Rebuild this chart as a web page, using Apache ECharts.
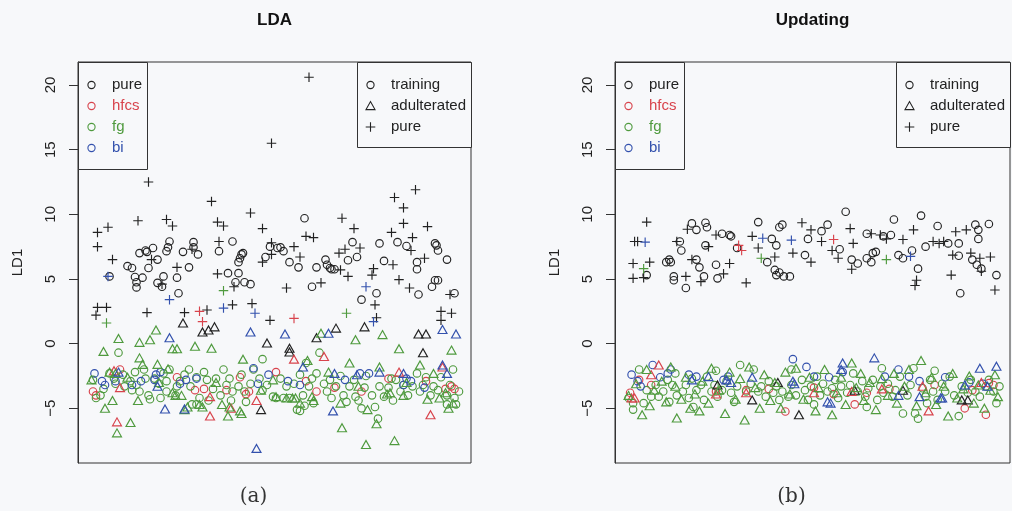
<!DOCTYPE html>
<html>
<head>
<meta charset="utf-8">
<script src="https://cdn.jsdelivr.net/npm/echarts@6/dist/echarts.min.js"></script>
<style>
  html, body { margin: 0; padding: 0; background: #f7f8fa; }
  #chart { width: 1012px; height: 511px; }
</style>
</head>
<body>
<div id="chart"></div>
<script>
// Shared axis ticks and labels
const yTicks = [-5, 0, 5, 10, 15, 20];
const panelTitles = ['LDA', 'Updating'];
const panelTags = ['(a)', '(b)'];
const classNames = ['pure', 'hfcs', 'fg', 'bi'];
const setNames = ['training', 'adulterated', 'pure'];

// ---- LDA panel: [sample index, LD1] ----
const ldaTrainPure = [[14,5.2],[26,6.0],[29,5.85],[31,5.15],[32,4.75],[32,4.35],[34,7.0],[36,5.1],[38,7.2],[39,7.1],[40,5.85],[43,7.4],[46,6.5],[46,4.7],[49,4.4],[50,5.2],[52,7.15],[53,7.45],[54,7.9],[59,5.1],[60,3.9],[63,7.1],[67,5.9],[70,7.85],[70,7.45],[73,6.9],[87,7.15],[93,5.45],[96,7.9],[98,4.75],[100,5.45],[100,6.3],[101,6.6],[102,6.9],[103,7.0],[104,4.75],[108,4.6],[118,6.7],[121,7.5],[126,7.4],[128,7.45],[130,7.15],[134,6.3],[140,5.9],[144,9.7],[149,4.4],[152,5.9],[158,6.5],[159,6.1],[161,5.85],[162,5.75],[164,5.75],[173,6.45],[176,7.85],[179,6.7],[182,3.4],[192,3.9],[194,7.75],[197,6.4],[206,7.85],[212,7.55],[219,6.3],[219,5.75],[220,3.8],[229,4.4],[231,7.75],[231,4.9],[232,7.6],[233,7.2],[233,4.9],[239,6.5],[244,3.9]];
const ldaTrainHfcs = [[3,-3.7],[5,-4.0],[21,-2.0],[59,-2.6],[71,-3.6],[77,-3.5],[92,-3.6],[101,-2.6],[105,-3.9],[107,-3.7],[125,-2.2],[145,-2.9],[152,-3.7],[164,-3.4],[182,-3.7],[200,-2.7],[225,-2.9],[238,-3.5],[242,-3.3],[244,-3.5]];
const ldaTrainFg = [[3,-2.8],[5,-4.2],[8,-4.0],[10,-3.5],[14,-2.3],[17,-2.7],[18,-3.1],[20,-0.7],[23,-2.4],[24,-3.3],[28,-2.9],[29,-3.6],[31,-2.2],[32,-3.2],[34,-3.7],[37,-2.0],[38,-2.7],[40,-4.0],[41,-4.3],[44,-2.7],[47,-3.1],[48,-4.2],[50,-2.3],[52,-2.9],[52,-3.7],[54,-2.0],[58,-4.0],[59,-3.3],[61,-2.9],[64,-2.4],[67,-2.0],[68,-3.3],[69,-4.7],[72,-2.6],[72,-4.7],[74,-4.2],[77,-2.2],[79,-2.8],[80,-4.4],[83,-3.5],[85,-2.7],[88,-4.0],[90,-2.0],[92,-3.2],[94,-2.7],[95,-4.4],[96,-3.7],[100,-3.3],[102,-2.4],[104,-3.7],[105,-4.5],[108,-3.1],[110,-2.0],[114,-2.7],[116,-1.2],[116,-3.6],[119,-3.2],[123,-4.1],[125,-4.2],[128,-2.7],[130,-4.2],[132,-3.3],[134,-4.2],[137,-3.1],[139,-5.1],[141,-2.4],[141,-5.2],[143,-4.0],[144,-4.8],[145,-1.5],[147,-3.3],[149,-2.7],[150,-4.6],[152,-2.3],[154,-0.7],[157,-3.1],[159,-3.7],[161,-2.8],[162,-4.2],[165,-3.3],[168,-2.5],[170,-4.0],[172,-4.5],[174,-3.3],[177,-2.8],[178,-4.1],[180,-4.4],[182,-5.0],[184,-3.4],[185,-2.5],[189,-4.0],[191,-4.9],[193,-5.8],[194,-3.3],[197,-4.1],[200,-3.4],[202,-2.7],[203,-4.4],[205,-2.8],[208,-3.7],[210,-3.2],[213,-4.0],[216,-3.3],[219,-2.3],[221,-3.7],[223,-3.2],[225,-2.6],[228,-4.0],[230,-3.3],[233,-3.6],[235,-2.6],[239,-4.0],[239,-4.7],[241,-3.2],[243,-2.0],[244,-4.2],[245,-4.7],[247,-3.7]];
const ldaTrainBi = [[4,-2.3],[9,-2.9],[11,-3.2],[18,-2.9],[29,-3.2],[35,-2.9],[44,-2.8],[45,-2.4],[48,-2.2],[61,-3.1],[65,-2.8],[72,-2.7],[110,-1.9],[113,-3.1],[120,-2.4],[133,-2.9],[141,-3.2],[171,-2.8],[181,-2.3],[187,-2.3],[210,-3.2],[212,-2.7],[215,-2.9],[224,-3.4]];
const ldaAdultPure = [[63,1.6],[76,0.9],[80,1.05],[84,1.3],[115,-5.1],[119,0.05],[134,-0.35],[134,-0.65],[152,0.45],[165,1.2],[184,1.3],[220,0.75],[223,-0.7],[225,0.75]];
const ldaAdultHfcs = [[17,-2.1],[19,-6.05],[21,-3.4],[81,-4.1],[81,-5.6],[95,-5.0],[112,-4.4],[137,-1.2],[157,-1.0],[207,-2.2],[228,-5.5],[236,-1.8]];
const ldaAdultFg = [[2,-2.8],[10,-0.6],[11,-5.0],[14,-2.2],[16,-4.4],[18,-2.3],[19,-6.9],[20,0.4],[26,-2.6],[28,-6.1],[33,-4.4],[34,0.1],[34,-1.1],[36,-1.6],[41,0.3],[45,1.05],[46,-1.6],[47,-3.0],[53,-1.95],[56,-0.4],[56,-3.8],[58,-4.0],[59,-0.4],[62,-4.0],[64,-5.1],[66,-4.9],[71,-0.2],[74,-4.7],[76,-4.9],[82,-0.35],[85,-3.0],[89,-4.7],[93,-5.6],[94,-4.9],[101,-5.2],[102,-5.4],[103,-1.2],[115,-3.6],[123,-2.8],[125,-4.1],[132,-4.2],[136,-4.2],[138,-4.2],[141,-4.6],[146,-1.3],[149,-4.1],[150,-4.4],[155,0.8],[160,-2.2],[168,-4.6],[169,-6.5],[174,-1.5],[178,0.3],[180,-3.3],[185,-7.8],[186,-5.1],[192,-6.2],[194,-1.8],[196,0.7],[199,-3.9],[201,-3.8],[204,-7.5],[207,-0.4],[210,-4.0],[212,-3.0],[221,-1.65],[226,-4.3],[230,-2.3],[234,-4.2],[238,-3.8],[240,-5.0],[242,-0.5],[243,-4.6]];
const ldaAdultBi = [[20,-2.2],[46,-3.3],[51,-5.05],[54,0.45],[64,-5.05],[108,0.9],[112,-8.1],[131,0.75],[143,-1.8],[160,0.8],[163,-5.2],[164,-2.3],[179,-2.4],[194,-2.2],[210,-2.3],[236,1.1],[236,-1.65],[239,-2.3],[245,0.75]];
const ldaTestPure = [[5,2.2],[6,2.8],[12,2.8],[6,7.5],[6,8.6],[13,9.0],[16,6.5],[33,9.5],[39,2.4],[40,12.5],[42,6.5],[49,4.6],[52,9.6],[56,9.1],[59,5.9],[64,2.4],[69,7.3],[79,2.6],[82,11.0],[86,9.4],[86,5.4],[87,7.9],[90,9.1],[96,3.0],[97,4.4],[108,10.1],[109,3.1],[116,8.9],[116,6.3],[121,1.8],[122,15.5],[122,7.8],[122,6.9],[132,4.3],[137,7.5],[141,6.7],[145,8.3],[147,20.6],[150,8.2],[155,4.7],[167,7.0],[168,5.7],[169,9.7],[171,7.3],[173,5.2],[177,8.9],[181,7.4],[189,5.3],[190,5.8],[191,3.0],[192,2.0],[202,8.6],[203,6.1],[204,11.3],[207,4.95],[210,10.5],[210,9.3],[214,4.3],[215,7.2],[216,8.2],[218,11.9],[224,6.6],[226,9.05],[235,2.5],[235,1.8],[241,3.8],[242,2.35]];
const ldaTestHfcs = [[74,2.5],[76,1.7],[137,1.95]];
const ldaTestFg = [[12,1.6],[90,4.1],[172,2.35]];
const ldaTestBi = [[13,5.2],[54,3.4],[90,2.75],[111,2.35],[185,4.4],[190,1.7]];

// ---- Updating panel: [sample index, LD1] ----
const updTrainPure = [[14,5.3],[27,6.3],[29,6.5],[30,6.3],[32,5.2],[32,4.9],[36,7.9],[37,7.2],[40,4.3],[44,9.3],[47,8.8],[47,6.5],[49,5.9],[52,5.2],[53,9.35],[54,9.0],[53,7.6],[60,6.1],[61,5.05],[64,8.5],[69,8.4],[70,8.3],[74,7.4],[88,9.4],[94,6.3],[97,8.1],[99,5.7],[100,5.3],[100,7.6],[102,5.5],[102,9.0],[104,9.2],[105,5.2],[109,5.2],[119,6.85],[121,8.1],[130,8.7],[134,9.2],[142,7.3],[146,10.2],[150,6.5],[154,6.2],[160,6.6],[160,8.5],[163,6.3],[164,7.0],[166,7.1],[171,8.3],[176,8.4],[178,9.6],[181,6.85],[184,6.6],[190,7.2],[194,5.8],[196,9.9],[199,7.5],[207,9.1],[214,7.75],[221,7.75],[221,6.8],[222,3.9],[230,6.5],[232,9.2],[234,8.8],[234,8.1],[233,6.1],[236,5.8],[241,9.25],[246,5.3]];
const updTrainHfcs = [[3,-3.8],[9,-2.8],[17,-3.2],[60,-3.7],[80,-3.6],[95,-3.5],[106,-5.25],[125,-3.4],[138,-3.9],[152,-4.7],[160,-3.8],[175,-3.5],[205,-3.2],[225,-5.0],[230,-3.6],[239,-5.5],[241,-3.05],[244,-3.2]];
const updTrainFg = [[2,-4.2],[5,-5.1],[5,-4.6],[9,-2.0],[12,-4.6],[14,-3.6],[17,-4.1],[20,-3.2],[22,-4.1],[25,-3.7],[28,-2.8],[29,-4.5],[31,-3.2],[33,-2.3],[34,-4.0],[38,-3.7],[40,-3.2],[42,-4.2],[44,-2.7],[45,-4.9],[47,-3.6],[50,-3.2],[52,-4.35],[54,-2.55],[57,-3.7],[59,-3.2],[60,-2.1],[61,-4.1],[64,-3.6],[67,-2.9],[70,-3.8],[72,-4.5],[74,-3.3],[76,-1.65],[80,-3.7],[83,-3.1],[85,-2.0],[88,-3.7],[90,-3.3],[93,-4.1],[95,-2.9],[98,-3.8],[100,-3.3],[102,-4.35],[104,-3.7],[108,-4.1],[110,-3.2],[110,-2.0],[113,-4.0],[117,-2.8],[119,-3.6],[121,-4.35],[123,-3.3],[125,-4.7],[127,-2.55],[129,-4.0],[131,-3.1],[134,-3.7],[137,-3.45],[139,-2.8],[141,-4.2],[143,-3.3],[147,-3.8],[149,-3.2],[151,-2.3],[154,-3.7],[157,-2.9],[159,-4.1],[160,-4.9],[161,-3.45],[164,-2.8],[167,-4.35],[169,-3.3],[170,-1.9],[171,-3.8],[174,-3.1],[177,-4.1],[179,-3.6],[182,-2.55],[184,-5.4],[187,-4.0],[189,-3.2],[191,-1.9],[192,-5.4],[194,-5.8],[197,-3.45],[199,-4.1],[200,-4.6],[202,-2.8],[204,-3.7],[205,-2.1],[207,-4.35],[210,-3.1],[212,-3.7],[215,-2.55],[218,-4.0],[221,-5.6],[223,-3.3],[227,-3.8],[229,-2.8],[232,-3.7],[235,-4.1],[239,-3.3],[241,-2.8],[244,-3.7],[246,-4.6],[248,-3.3]];
const updTrainBi = [[4,-2.4],[8,-2.9],[10,-3.3],[18,-1.65],[23,-2.6],[28,-2.3],[30,-2.0],[42,-2.4],[47,-2.55],[65,-2.8],[68,-2.55],[111,-1.2],[120,-1.8],[125,-2.55],[135,-2.6],[144,-2.2],[172,-2.55],[181,-2.0],[188,-2.55],[195,-2.9],[212,-2.6],[228,-3.0],[237,-3.1]];
const updAdultPure = [[61,-3.2],[84,-4.35],[101,-3.0],[115,-5.5],[152,-3.6],[184,-3.6],[223,-4.35],[227,-4.35]];
const updAdultHfcs = [[4,-4.2],[6,-4.2],[17,-2.4],[22,-1.65],[60,-3.9],[80,-3.8],[125,-3.8],[150,-3.7],[170,-3.5],[197,-3.3],[201,-5.2],[236,-3.0]];
const updAdultFg = [[2,-4.0],[7,-3.1],[11,-5.5],[14,-2.0],[16,-4.8],[19,-3.6],[24,-2.9],[27,-4.5],[30,-1.8],[33,-3.3],[34,-5.75],[37,-4.3],[40,-2.6],[43,-5.0],[46,-3.9],[49,-5.2],[51,-2.9],[55,-4.6],[57,-1.9],[62,-3.6],[66,-5.4],[69,-2.2],[73,-4.3],[76,-2.7],[79,-5.9],[82,-1.8],[86,-3.4],[89,-5.0],[92,-2.4],[96,-4.4],[99,-3.0],[103,-5.0],[106,-2.2],[109,-3.9],[113,-1.9],[118,-4.3],[122,-2.6],[126,-5.2],[128,-3.4],[132,-2.0],[137,-5.5],[140,-3.8],[143,-2.6],[146,-4.7],[150,-1.5],[153,-3.4],[156,-2.3],[158,-4.4],[162,-3.0],[166,-5.1],[170,-2.7],[174,-4.0],[178,-2.3],[180,-4.6],[185,-3.3],[188,-2.0],[193,-4.8],[196,-1.3],[199,-3.8],[203,-2.6],[206,-4.7],[211,-3.3],[214,-5.6],[217,-2.3],[220,-4.2],[224,-3.5],[228,-2.5],[231,-4.6],[234,-3.2],[238,-5.0],[242,-3.6],[245,-2.4],[247,-4.1]];
const updAdultBi = [[44,-2.8],[55,-2.55],[67,-2.8],[70,-3.0],[84,-2.6],[111,-2.9],[112,-3.1],[134,-4.5],[136,-4.6],[143,-2.0],[144,-1.5],[165,-1.1],[181,-4.0],[195,-4.1],[209,-4.2],[210,-4.2],[225,-3.2],[235,-1.9],[240,-3.3],[246,-1.75]];
const updTestPure = [[5,5.05],[5,6.2],[6,7.9],[8,7.9],[12,5.1],[14,9.4],[16,6.3],[34,7.9],[40,5.2],[41,8.85],[44,6.5],[50,4.8],[55,7.5],[60,8.4],[65,5.4],[69,6.2],[80,4.7],[84,8.3],[88,7.4],[99,6.7],[111,7.0],[117,9.35],[123,8.8],[123,6.3],[130,7.9],[137,7.2],[141,6.6],[149,8.9],[150,5.75],[151,7.75],[163,8.5],[169,8.4],[173,8.1],[184,8.05],[191,8.8],[192,4.5],[193,4.9],[204,7.9],[208,7.75],[211,7.9],[216,5.3],[217,6.85],[219,8.65],[226,8.8],[229,7.0],[235,6.6],[236,5.6],[242,6.7],[245,4.15]];
const updTestHfcs = [[75,7.6],[77,7.2],[138,8.05]];
const updTestFg = [[12,5.8],[90,6.6],[173,6.5]];
const updTestBi = [[13,7.85],[91,8.15],[110,8.0],[189,6.75]];

// ---- styling / layout ----
const COLORS = { pure: '#222222', hfcs: '#d8434c', fg: '#4f9a3e', bi: '#3351ad' };
const SANS = '"Liberation Sans", Arial, Helvetica, sans-serif';
const PLUS_PATH = 'path://M5,0V10M0,5H10';
const SHAPES = {
  training:    { symbol: 'circle',   size: 7.5 },
  adulterated: { symbol: 'triangle', size: [9, 8] },
  pure:        { symbol: PLUS_PATH,  size: 9.5 }
};
const GRIDS = [
  { left: 78,  top: 62, width: 393, height: 401 },
  { left: 615, top: 62, width: 395, height: 401 }
];

const panels = [
  { train: [ldaTrainPure, ldaTrainHfcs, ldaTrainFg, ldaTrainBi],
    adult: [ldaAdultPure, ldaAdultHfcs, ldaAdultFg, ldaAdultBi],
    test:  [ldaTestPure, ldaTestHfcs, ldaTestFg, ldaTestBi] },
  { train: [updTrainPure, updTrainHfcs, updTrainFg, updTrainBi],
    adult: [updAdultPure, updAdultHfcs, updAdultFg, updAdultBi],
    test:  [updTestPure, updTestHfcs, updTestFg, updTestBi] }
];

const series = [];
panels.forEach((p, pi) => {
  [['training', p.train], ['adulterated', p.adult], ['pure', p.test]].forEach(([setKey, groups]) => {
    groups.forEach((data, ci) => {
      const cls = classNames[ci];
      series.push({
        type: 'scatter',
        name: setKey + ' ' + cls,
        xAxisIndex: pi,
        yAxisIndex: pi,
        data: data,
        symbol: SHAPES[setKey].symbol,
        symbolSize: SHAPES[setKey].size,
        silent: true,
        itemStyle: { color: 'transparent', borderColor: COLORS[cls], borderWidth: 1.15, opacity: 1 }
      });
    });
  });
});

// legend boxes drawn as graphic shapes + real text
function legendSymbol(shape, cx, cy, color) {
  const st = { stroke: color, lineWidth: 1.1, fill: 'transparent' };
  if (shape === 'training') return { type: 'circle', shape: { cx, cy, r: 3.6 }, style: st };
  if (shape === 'adulterated') return { type: 'polygon', shape: { points: [[cx - 4.5, cy + 3.6], [cx + 4.5, cy + 3.6], [cx, cy - 4.4]] }, style: st };
  return { type: 'polyline', shape: { points: [[cx - 4.8, cy], [cx + 4.8, cy], [cx, cy], [cx, cy - 4.8], [cx, cy + 4.8]] }, style: { stroke: color, lineWidth: 1.1, fill: null } };
}
function legendBlock(x, y, w, h, rows) {
  const els = [{ type: 'rect', z: 10, shape: { x: x + 0.5, y: y + 0.5, width: w, height: h }, style: { fill: '#f7f8fa', stroke: '#333', lineWidth: 1 } }];
  rows.forEach((r, i) => {
    const cy = y + 23 + i * 21;
    const sym = legendSymbol(r.shape, x + 13.5, cy, r.symColor);
    sym.z = 11;
    els.push(sym);
    els.push({ type: 'text', z: 11, style: { text: r.label, x: x + 34, y: cy, fill: r.textColor, font: '15px ' + SANS, align: 'left', verticalAlign: 'middle', textAlign: 'left', textVerticalAlign: 'middle' } });
  });
  return els;
}

const graphic = [];
GRIDS.forEach((g, pi) => {
  const cx = g.left + g.width / 2;
  graphic.push({ type: 'text', style: { text: panelTitles[pi], x: cx, y: 20, fill: '#111', font: 'bold 17px ' + SANS, align: 'center', verticalAlign: 'middle', textAlign: 'center', textVerticalAlign: 'middle' } });
  graphic.push({ type: 'text', style: { text: panelTags[pi], x: cx - 21, y: 497, fill: '#333', font: '20px "DejaVu Serif", "Liberation Serif", serif', align: 'center', verticalAlign: 'middle', textAlign: 'center', textVerticalAlign: 'middle' } });
  const classRows = classNames.map(n => ({ label: n, shape: 'training', symColor: COLORS[n], textColor: COLORS[n] }));
  legendBlock(g.left, g.top, 69, 107, classRows).forEach(e => graphic.push(e));
  const setRows = setNames.map(n => ({ label: n, shape: n, symColor: '#222', textColor: '#222' }));
  legendBlock(g.left + g.width - 114, g.top, 114, 85, setRows).forEach(e => graphic.push(e));
});

const option = {
  backgroundColor: '#f7f8fa',
  animation: false,
  grid: GRIDS.map(g => Object.assign({ show: true, borderColor: '#333', borderWidth: 1, backgroundColor: 'transparent' }, g)),
  xAxis: GRIDS.map((g, i) => ({ type: 'value', gridIndex: i, min: -7, max: 255, show: false })),
  yAxis: GRIDS.map((g, i) => ({
    type: 'value', gridIndex: i, min: -9.23, max: 21.78, position: 'left',
    name: 'LD1', nameLocation: 'middle', nameGap: 53, nameRotate: 90,
    nameTextStyle: { fontSize: 15, color: '#222', fontFamily: SANS },
    axisLine: { show: true, onZero: false, lineStyle: { color: '#333', width: 1 } },
    splitLine: { show: false },
    axisTick: { show: true, inside: false, length: 9, customValues: yTicks, lineStyle: { color: '#333', width: 1 } },
    axisLabel: { customValues: yTicks, rotate: 90, margin: 20, fontSize: 15, color: '#222', fontFamily: SANS,
      formatter: v => (v < 0 ? '\u2212' + Math.abs(v) : String(v)) }
  })),
  graphic: graphic,
  series: series
};

const chart = echarts.init(document.getElementById('chart'), null, { renderer: 'canvas' });
chart.setOption(option);
</script>
</body>
</html>
